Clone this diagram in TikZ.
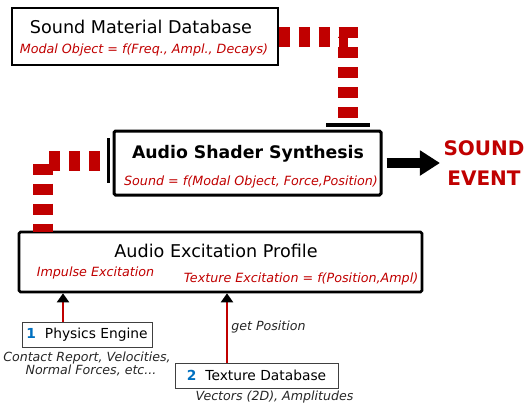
\documentclass[tikz,border=0pt]{standalone}
\usepackage{fontspec}
\setmainfont{DejaVu Sans}
\usetikzlibrary{positioning,arrows.meta}
\definecolor{soundred}{RGB}{192,0,0}
\definecolor{numblue}{RGB}{0,112,192}

\begin{document}
\begin{tikzpicture}[x=1pt, y=-1pt,
  box/.style={draw, rectangle, inner sep=0pt},
  thin box/.style={box, line width=1.3pt},
  thick box/.style={box, line width=2.6pt, rounded corners=1.5pt},
  small box/.style={box, line width=1pt, draw=black!75, minimum height=25pt, font=\fontsize{13.8}{16}\selectfont},
  title/.style={font=\fontsize{17.6}{21}\selectfont},
  red note/.style={text=soundred, font=\fontsize{12.7}{15}\selectfont\itshape},
  dark note/.style={text=black!85, font=\fontsize{12.6}{13}\selectfont\itshape, align=center},
  feed/.style={soundred, line width=20pt, dash pattern=on 11pt off 9pt},
  stop bar/.style={line width=3.5pt},
  pull/.style={soundred, line width=2pt, -{Triangle[black, length=9pt, width=12pt]}},
  event arrow/.style={line width=10pt, -{Triangle[length=20pt, width=24pt]}}]
\useasboundingbox (0,0) rectangle (526,408);

% boxes
\node[thin box, minimum width=266pt, minimum height=57pt] (1) at (145,36.5) {};
\node[title] (1t) at (141,27) {Sound Material Database};
\node[red note] (1s) at (144,50) {Modal Object = f(Freq., Ampl., Decays)};

\node[thick box, line width=3pt, minimum width=267pt, minimum height=64pt] (2) at (247.5,163) {};
\node[title, font=\fontsize{17.3}{20}\selectfont\bfseries] (2t) at (248,154) {Audio Shader Synthesis};
\node[red note] (2s) at (251,182) {Sound = f(Modal Object, Force,Position)};

\node[thick box, minimum width=403pt, minimum height=60pt] (3) at (220.5,262) {};
\node[title] (3t) at (216,251) {Audio Excitation Profile};
\node[red note] (3a) at (95.5,273) {Impulse Excitation};
\node[red note] (3b) at (301,279) {Texture Excitation = f(Position,Ampl)};

\node[small box, minimum width=130pt] (4) at (87,334.5) {{\bfseries\color{numblue}1}\hspace{9pt}Physics Engine};
\node[dark note, below=1pt of 4] (4n) {Contact Report, Velocities,\\ \hspace{8pt}Normal Forces, etc...};

\node[small box, minimum width=163pt] (5) at (256.5,375.5) {{\bfseries\color{numblue}2}\hspace{9pt}Texture Database};
\node[dark note] (5n) at (274.5,397) {Vectors (2D), Amplitudes};

\node[text=soundred, font=\fontsize{20}{30}\selectfont\bfseries, align=center] (6) at (484,163) {SOUND\\EVENT};

% connectors
\coordinate (2top) at (348,125);
\coordinate (2left) at (108,160.5);
\coordinate (3in) at (43,232);

\draw[feed] (1.east) -| (2top);
\draw[feed] ([xshift=-8pt]2left) -| (3in);
\draw[stop bar] ([xshift=-22pt]2top) -- ([xshift=22pt]2top);
\draw[stop bar, line width=3pt] ([yshift=22.5pt]2left) -- ([yshift=-22.5pt]2left);

\draw[event arrow] ([xshift=4pt]2.east) -- (6.west);

\draw[pull] ([xshift=-24pt]4.north) -- ([xshift=-24pt]4.north |- 3.south);
\draw[pull] ([xshift=-29.5pt]5.north) -- ([xshift=-29.5pt]5.north |- 3.south)
  node[dark note, right, pos=0.52] (5l) {get Position};

\end{tikzpicture}
\end{document}
